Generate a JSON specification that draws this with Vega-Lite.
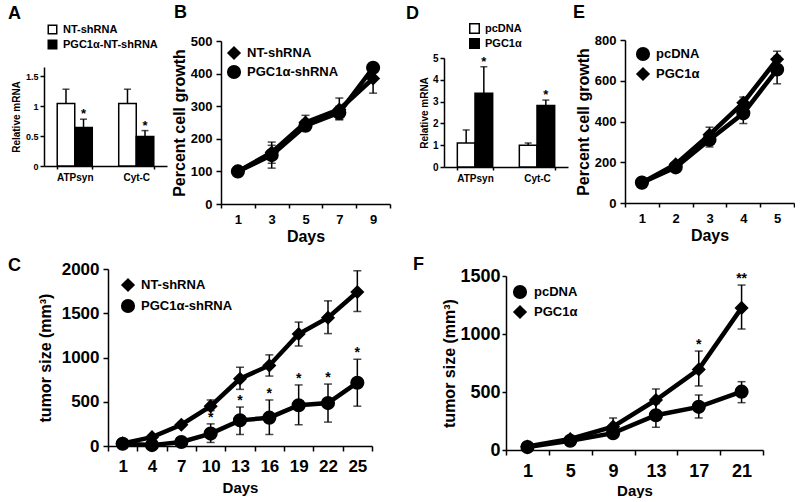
{
"$schema": "https://vega.github.io/schema/vega-lite/v6.json",
"background": "white",
"padding": {"left": 6, "top": 3, "right": 0, "bottom": 0},
"config": {
 "font": "Liberation Sans",
 "view": {"stroke": null},
 "axis": {"grid": false, "domainColor": "black", "domainWidth": 1.5, "tickColor": "black", "tickWidth": 1.5, "labelColor": "black", "titleColor": "black", "labelFontWeight": "bold", "titleFontWeight": "bold", "labelFont": "Liberation Sans", "titleFont": "Liberation Sans"},
 "legend": {"labelFont": "Liberation Sans", "labelFontWeight": "bold", "labelColor": "black", "padding": 0},
 "title": {"font": "Liberation Sans", "fontWeight": "bold", "color": "black", "fontSize": 18, "anchor": "start", "frame": "group"}
},
"resolve": {"scale": {"fill": "independent", "shape": "independent", "xOffset": "independent"}},
"columns": 1, "align": "none", "spacing": 11,
"concat": [
 {"columns": 2, "align": "none", "spacing": 1,
  "resolve": {"scale": {"fill": "independent", "shape": "independent", "xOffset": "independent"}},
  "concat": [
  {"width": 1, "height": 1, "view": {"fill": "white"}, "data": {"values": []}, "mark": "point"},
  {"columns": 2, "align": "none", "spacing": 15,
   "resolve": {"scale": {"fill": "independent", "shape": "independent", "xOffset": "independent"}},
   "concat": [
   {"columns": 2, "align": "none", "spacing": 4,
    "resolve": {"scale": {"fill": "independent", "shape": "independent", "xOffset": "independent"}},
    "concat": [
    {"columns": 1, "align": "none", "spacing": 0,
     "resolve": {"scale": {"fill": "independent", "shape": "independent", "xOffset": "independent"}},
     "concat": [
     {"width": 1, "height": 1, "view": {"fill": "white"}, "data": {"values": []}, "mark": "point"},
     {
      "width": 123, "height": 99,
      "title": {"text": "A", "dx": -36, "offset": 1.5},
      "data": {"values": [
       {"gene": "ATPsyn", "grp": "NT-shRNA", "val": 1.04, "hi": 1.28, "sig": ""},
       {"gene": "ATPsyn", "grp": "PGC1α-NT-shRNA", "val": 0.64, "hi": 0.78, "sig": "*"},
       {"gene": "Cyt-C", "grp": "NT-shRNA", "val": 1.04, "hi": 1.28, "sig": ""},
       {"gene": "Cyt-C", "grp": "PGC1α-NT-shRNA", "val": 0.49, "hi": 0.59, "sig": "*"}
      ]},
      "encoding": {
       "x": {"field": "gene", "type": "nominal", "sort": ["ATPsyn", "Cyt-C"], "scale": {"paddingInner": 0.43, "paddingOuter": 0.215}, "axis": {"title": null, "labelAngle": 0, "labelFontSize": 10, "tickBand": "extent", "tickSize": 3, "labelPadding": 3}},
       "xOffset": {"field": "grp", "type": "nominal", "sort": ["NT-shRNA", "PGC1α-NT-shRNA"], "scale": {"paddingInner": 0, "paddingOuter": 0}},
       "y": {"field": "val", "type": "quantitative", "scale": {"domain": [0, 1.65], "nice": false}, "axis": {"title": "Relative mRNA", "format": "~g", "values": [0, 0.5, 1, 1.5], "labelFontSize": 9, "titleFontSize": 10, "tickSize": 4, "labelPadding": 2, "titlePadding": 4}}
      },
      "layer": [
       {"mark": {"type": "rule", "color": "black", "strokeWidth": 1.5}, "encoding": {"y2": {"field": "hi"}}},
       {"mark": {"type": "tick", "color": "black", "thickness": 1.5, "size": 7}, "encoding": {"y": {"field": "hi", "type": "quantitative"}}},
       {"mark": {"type": "bar", "stroke": "black", "strokeWidth": 1.5}, "encoding": {"fill": {"field": "grp", "type": "nominal", "scale": {"domain": ["NT-shRNA", "PGC1α-NT-shRNA"], "range": ["white", "black"]}, "legend": {"title": null, "orient": "none", "legendX": 3, "legendY": -43, "symbolType": "square", "symbolSize": 72, "symbolStrokeColor": "black", "symbolStrokeWidth": 1.5, "labelFontSize": 11, "rowPadding": 0, "labelOffset": 5}}}},
       {"mark": {"type": "text", "fontSize": 13, "fontWeight": "bold", "baseline": "alphabetic", "dy": -1, "color": "black"}, "encoding": {"y": {"field": "hi", "type": "quantitative"}, "text": {"field": "sig"}}}
      ]
     }
    ]},
    {"columns": 1, "align": "none", "spacing": 0,
     "resolve": {"scale": {"fill": "independent", "shape": "independent", "xOffset": "independent"}},
     "concat": [
     {"width": 1, "height": 1, "view": {"fill": "white"}, "data": {"values": []}, "mark": "point"},
     {
      "width": 169, "height": 163,
      "title": {"text": "B", "dx": -47, "offset": 13},
      "data": {"values": [
       {"day": 1, "grp": "NT-shRNA", "val": 100, "lo": 100, "hi": 100},
       {"day": 3, "grp": "NT-shRNA", "val": 158, "lo": 125, "hi": 190},
       {"day": 5, "grp": "NT-shRNA", "val": 250, "lo": 232, "hi": 272},
       {"day": 7, "grp": "NT-shRNA", "val": 290, "lo": 260, "hi": 325},
       {"day": 9, "grp": "NT-shRNA", "val": 385, "lo": 340, "hi": 420},
       {"day": 1, "grp": "PGC1α-shRNA", "val": 100, "lo": 100, "hi": 100},
       {"day": 3, "grp": "PGC1α-shRNA", "val": 150, "lo": 110, "hi": 180},
       {"day": 5, "grp": "PGC1α-shRNA", "val": 240, "lo": 225, "hi": 258},
       {"day": 7, "grp": "PGC1α-shRNA", "val": 280, "lo": 258, "hi": 300},
       {"day": 9, "grp": "PGC1α-shRNA", "val": 418, "lo": 405, "hi": 430}
      ]},
      "encoding": {
       "x": {"field": "day", "type": "ordinal", "bandPosition": 0.5, "scale": {"type": "band", "paddingInner": 0, "paddingOuter": 0}, "axis": {"title": "Days", "labelAngle": 0, "labelFontSize": 13, "titleFontSize": 16, "tickBand": "extent", "tickSize": 4, "labelPadding": 5, "titlePadding": 2}},
       "y": {"field": "val", "type": "quantitative", "scale": {"domain": [0, 500], "nice": false}, "axis": {"title": "Percent cell growth", "format": "d", "values": [0, 100, 200, 300, 400, 500], "labelFontSize": 13, "titleFontSize": 16, "tickSize": 5, "labelPadding": 4, "titlePadding": 3}}
      },
      "layer": [
       {"mark": {"type": "line", "color": "black", "strokeWidth": 4.5}, "encoding": {"detail": {"field": "grp"}}},
       {"mark": {"type": "rule", "color": "black", "strokeWidth": 1.5}, "encoding": {"y": {"field": "lo", "type": "quantitative"}, "y2": {"field": "hi"}}},
       {"mark": {"type": "tick", "color": "black", "thickness": 1.5, "size": 8}, "encoding": {"y": {"field": "lo", "type": "quantitative"}}},
       {"mark": {"type": "tick", "color": "black", "thickness": 1.5, "size": 8}, "encoding": {"y": {"field": "hi", "type": "quantitative"}}},
       {"mark": {"type": "point", "filled": true, "color": "black", "opacity": 1, "size": 200}, "encoding": {
         "shape": {"field": "grp", "type": "nominal", "scale": {"domain": ["NT-shRNA", "PGC1α-shRNA"], "range": ["diamond", "circle"]}, "legend": {"title": null, "orient": "none", "legendX": 5, "legendY": 4, "symbolSize": 200, "symbolFillColor": "black", "symbolStrokeColor": "black", "labelFontSize": 13, "rowPadding": -3, "labelOffset": 5}}}}
      ]
     }
    ]}
   ]},
   {"columns": 2, "align": "none", "spacing": 5,
    "resolve": {"scale": {"fill": "independent", "shape": "independent", "xOffset": "independent"}},
    "concat": [
    {"columns": 1, "align": "none", "spacing": 0,
     "resolve": {"scale": {"fill": "independent", "shape": "independent", "xOffset": "independent"}},
     "concat": [
     {"width": 1, "height": 1, "view": {"fill": "white"}, "data": {"values": []}, "mark": "point"},
     {
      "width": 124, "height": 109,
      "title": {"text": "D", "dx": -38, "offset": 0.5},
      "data": {"values": [
       {"gene": "ATPsyn", "grp": "pcDNA", "val": 1.1, "hi": 1.7, "sig": ""},
       {"gene": "ATPsyn", "grp": "PGC1α", "val": 3.38, "hi": 4.6, "sig": "*"},
       {"gene": "Cyt-C", "grp": "pcDNA", "val": 1.0, "hi": 1.1, "sig": ""},
       {"gene": "Cyt-C", "grp": "PGC1α", "val": 2.82, "hi": 3.07, "sig": "*"}
      ]},
      "encoding": {
       "x": {"field": "gene", "type": "nominal", "sort": ["ATPsyn", "Cyt-C"], "scale": {"paddingInner": 0.43, "paddingOuter": 0.215}, "axis": {"title": null, "labelAngle": 0, "labelFontSize": 10, "tickBand": "extent", "tickSize": 3, "labelPadding": 3}},
       "xOffset": {"field": "grp", "type": "nominal", "sort": ["pcDNA", "PGC1α"], "scale": {"paddingInner": 0, "paddingOuter": 0}},
       "y": {"field": "val", "type": "quantitative", "scale": {"domain": [0, 5], "nice": false}, "axis": {"title": "Relative mRNA", "format": "d", "values": [0, 1, 2, 3, 4, 5], "labelFontSize": 10, "titleFontSize": 10, "tickSize": 4, "labelPadding": 2, "titlePadding": 3}}
      },
      "layer": [
       {"mark": {"type": "rule", "color": "black", "strokeWidth": 1.5}, "encoding": {"y2": {"field": "hi"}}},
       {"mark": {"type": "tick", "color": "black", "thickness": 1.5, "size": 7}, "encoding": {"y": {"field": "hi", "type": "quantitative"}}},
       {"mark": {"type": "bar", "stroke": "black", "strokeWidth": 1.5}, "encoding": {"fill": {"field": "grp", "type": "nominal", "scale": {"domain": ["pcDNA", "PGC1α"], "range": ["white", "black"]}, "legend": {"title": null, "orient": "none", "legendX": 25, "legendY": -35, "symbolType": "square", "symbolSize": 90, "symbolStrokeColor": "black", "symbolStrokeWidth": 1.5, "labelFontSize": 11, "rowPadding": -2, "labelOffset": 5}}}},
       {"mark": {"type": "text", "fontSize": 13, "fontWeight": "bold", "baseline": "alphabetic", "dy": -1, "color": "black"}, "encoding": {"y": {"field": "hi", "type": "quantitative"}, "text": {"field": "sig"}}}
      ]
     }
    ]},
    {"columns": 1, "align": "none", "spacing": 0,
     "resolve": {"scale": {"fill": "independent", "shape": "independent", "xOffset": "independent"}},
     "concat": [
     {"width": 1, "height": 1, "view": {"fill": "white"}, "data": {"values": []}, "mark": "point"},
     {
      "width": 169, "height": 163,
      "title": {"text": "E", "dx": -52, "offset": 12},
      "data": {"values": [
       {"day": 1, "grp": "pcDNA", "val": 100, "lo": 100, "hi": 100},
       {"day": 2, "grp": "pcDNA", "val": 175, "lo": 165, "hi": 185},
       {"day": 3, "grp": "pcDNA", "val": 310, "lo": 275, "hi": 345},
       {"day": 4, "grp": "pcDNA", "val": 440, "lo": 390, "hi": 490},
       {"day": 5, "grp": "pcDNA", "val": 655, "lo": 585, "hi": 720},
       {"day": 1, "grp": "PGC1α", "val": 100, "lo": 100, "hi": 100},
       {"day": 2, "grp": "PGC1α", "val": 190, "lo": 180, "hi": 200},
       {"day": 3, "grp": "PGC1α", "val": 335, "lo": 305, "hi": 372},
       {"day": 4, "grp": "PGC1α", "val": 492, "lo": 470, "hi": 520},
       {"day": 5, "grp": "PGC1α", "val": 705, "lo": 670, "hi": 745}
      ]},
      "encoding": {
       "x": {"field": "day", "type": "ordinal", "bandPosition": 0.5, "scale": {"type": "band", "paddingInner": 0, "paddingOuter": 0}, "axis": {"title": "Days", "labelAngle": 0, "labelFontSize": 13, "titleFontSize": 16, "tickBand": "extent", "tickSize": 4, "labelPadding": 5, "titlePadding": 2}},
       "y": {"field": "val", "type": "quantitative", "scale": {"domain": [0, 800], "nice": false}, "axis": {"title": "Percent cell growth", "format": "d", "values": [0, 200, 400, 600, 800], "labelFontSize": 13, "titleFontSize": 16, "tickSize": 5, "labelPadding": 4, "titlePadding": 3}}
      },
      "layer": [
       {"mark": {"type": "line", "color": "black", "strokeWidth": 4.5}, "encoding": {"detail": {"field": "grp"}}},
       {"mark": {"type": "rule", "color": "black", "strokeWidth": 1.5}, "encoding": {"y": {"field": "lo", "type": "quantitative"}, "y2": {"field": "hi"}}},
       {"mark": {"type": "tick", "color": "black", "thickness": 1.5, "size": 8}, "encoding": {"y": {"field": "lo", "type": "quantitative"}}},
       {"mark": {"type": "tick", "color": "black", "thickness": 1.5, "size": 8}, "encoding": {"y": {"field": "hi", "type": "quantitative"}}},
       {"mark": {"type": "point", "filled": true, "color": "black", "opacity": 1, "size": 200}, "encoding": {
         "shape": {"field": "grp", "type": "nominal", "scale": {"domain": ["pcDNA", "PGC1α"], "range": ["circle", "diamond"]}, "legend": {"title": null, "orient": "none", "legendX": 10, "legendY": 6, "symbolSize": 200, "symbolFillColor": "black", "symbolStrokeColor": "black", "labelFontSize": 13, "rowPadding": -2, "labelOffset": 5}}}}
      ]
     }
    ]}
   ]}
  ]}
 ]},
 {"columns": 2, "align": "none", "spacing": 1,
  "resolve": {"scale": {"fill": "independent", "shape": "independent", "xOffset": "independent"}},
  "concat": [
  {"width": 1, "height": 1, "view": {"fill": "white"}, "data": {"values": []}, "mark": "point"},
  {"columns": 2, "align": "none", "spacing": 40,
   "resolve": {"scale": {"fill": "independent", "shape": "independent", "xOffset": "independent"}},
   "concat": [
   {"columns": 1, "align": "none", "spacing": 0,
    "resolve": {"scale": {"fill": "independent", "shape": "independent", "xOffset": "independent"}},
    "concat": [
    {"width": 1, "height": 1, "view": {"fill": "white"}, "data": {"values": []}, "mark": "point"},
    {
     "width": 264, "height": 177,
     "title": {"text": "C", "dx": -100, "offset": -17},
     "data": {"values": [
      {"day": 1, "grp": "NT-shRNA", "val": 30, "lo": 20, "hi": 40, "sig": ""},
      {"day": 4, "grp": "NT-shRNA", "val": 100, "lo": 85, "hi": 115, "sig": ""},
      {"day": 7, "grp": "NT-shRNA", "val": 240, "lo": 215, "hi": 265, "sig": ""},
      {"day": 10, "grp": "NT-shRNA", "val": 450, "lo": 400, "hi": 520, "sig": ""},
      {"day": 13, "grp": "NT-shRNA", "val": 760, "lo": 640, "hi": 890, "sig": ""},
      {"day": 16, "grp": "NT-shRNA", "val": 910, "lo": 790, "hi": 1030, "sig": ""},
      {"day": 19, "grp": "NT-shRNA", "val": 1265, "lo": 1130, "hi": 1400, "sig": ""},
      {"day": 22, "grp": "NT-shRNA", "val": 1450, "lo": 1270, "hi": 1640, "sig": ""},
      {"day": 25, "grp": "NT-shRNA", "val": 1740, "lo": 1520, "hi": 1980, "sig": ""},
      {"day": 1, "grp": "PGC1α-shRNA", "val": 25, "lo": 15, "hi": 35, "sig": ""},
      {"day": 4, "grp": "PGC1α-shRNA", "val": 10, "lo": 5, "hi": 15, "sig": ""},
      {"day": 7, "grp": "PGC1α-shRNA", "val": 45, "lo": 35, "hi": 55, "sig": ""},
      {"day": 10, "grp": "PGC1α-shRNA", "val": 140, "lo": 40, "hi": 250, "sig": "*"},
      {"day": 13, "grp": "PGC1α-shRNA", "val": 290, "lo": 130, "hi": 440, "sig": "*"},
      {"day": 16, "grp": "PGC1α-shRNA", "val": 320, "lo": 130, "hi": 520, "sig": "*"},
      {"day": 19, "grp": "PGC1α-shRNA", "val": 460, "lo": 240, "hi": 690, "sig": "*"},
      {"day": 22, "grp": "PGC1α-shRNA", "val": 485, "lo": 270, "hi": 700, "sig": "*"},
      {"day": 25, "grp": "PGC1α-shRNA", "val": 715, "lo": 450, "hi": 980, "sig": "*"}
     ]},
     "encoding": {
      "x": {"field": "day", "type": "ordinal", "bandPosition": 0.5, "scale": {"type": "band", "paddingInner": 0, "paddingOuter": 0}, "axis": {"title": "Days", "labelAngle": 0, "labelFontSize": 17, "titleFontSize": 15, "tickBand": "extent", "tickSize": 5, "labelPadding": 7, "titlePadding": 6}},
      "y": {"field": "val", "type": "quantitative", "scale": {"domain": [0, 2000], "nice": false}, "axis": {"title": "tumor size (mm³)", "format": "d", "values": [0, 500, 1000, 1500, 2000], "labelFontSize": 17, "titleFontSize": 16, "tickSize": 5, "labelPadding": 4, "titlePadding": 8}}
     },
     "layer": [
      {"mark": {"type": "line", "color": "black", "strokeWidth": 4.5}, "encoding": {"detail": {"field": "grp"}}},
      {"mark": {"type": "rule", "color": "black", "strokeWidth": 1.5}, "encoding": {"y": {"field": "lo", "type": "quantitative"}, "y2": {"field": "hi"}}},
      {"mark": {"type": "tick", "color": "black", "thickness": 1.5, "size": 8}, "encoding": {"y": {"field": "lo", "type": "quantitative"}}},
      {"mark": {"type": "tick", "color": "black", "thickness": 1.5, "size": 8}, "encoding": {"y": {"field": "hi", "type": "quantitative"}}},
      {"mark": {"type": "point", "filled": true, "color": "black", "opacity": 1, "size": 200}, "encoding": {
        "shape": {"field": "grp", "type": "nominal", "scale": {"domain": ["NT-shRNA", "PGC1α-shRNA"], "range": ["diamond", "circle"]}, "legend": {"title": null, "orient": "none", "legendX": 12, "legendY": 8, "symbolSize": 200, "symbolFillColor": "black", "symbolStrokeColor": "black", "labelFontSize": 13, "rowPadding": -1, "labelOffset": 5}}}},
      {"mark": {"type": "text", "fontSize": 14, "fontWeight": "bold", "baseline": "alphabetic", "dy": -2, "color": "black"}, "encoding": {"y": {"field": "hi", "type": "quantitative"}, "text": {"field": "sig"}}}
     ]
    }
   ]},
   {"columns": 1, "align": "none", "spacing": 0,
    "resolve": {"scale": {"fill": "independent", "shape": "independent", "xOffset": "independent"}},
    "concat": [
    {"width": 1, "height": 1, "view": {"fill": "white"}, "data": {"values": []}, "mark": "point"},
    {
     "width": 257, "height": 174,
     "title": {"text": "F", "dx": -93, "offset": -7},
     "data": {"values": [
      {"day": 1, "grp": "pcDNA", "val": 25, "lo": 15, "hi": 35, "sig": ""},
      {"day": 5, "grp": "pcDNA", "val": 80, "lo": 65, "hi": 95, "sig": ""},
      {"day": 9, "grp": "pcDNA", "val": 145, "lo": 115, "hi": 180, "sig": ""},
      {"day": 13, "grp": "pcDNA", "val": 300, "lo": 196, "hi": 400, "sig": ""},
      {"day": 17, "grp": "pcDNA", "val": 372, "lo": 276, "hi": 474, "sig": ""},
      {"day": 21, "grp": "pcDNA", "val": 503, "lo": 408, "hi": 589, "sig": ""},
      {"day": 1, "grp": "PGC1α", "val": 30, "lo": 20, "hi": 40, "sig": ""},
      {"day": 5, "grp": "PGC1α", "val": 95, "lo": 80, "hi": 110, "sig": ""},
      {"day": 9, "grp": "PGC1α", "val": 201, "lo": 160, "hi": 276, "sig": ""},
      {"day": 13, "grp": "PGC1α", "val": 431, "lo": 340, "hi": 526, "sig": ""},
      {"day": 17, "grp": "PGC1α", "val": 695, "lo": 552, "hi": 853, "sig": "*"},
      {"day": 21, "grp": "PGC1α", "val": 1225, "lo": 1043, "hi": 1422, "sig": "**"}
     ]},
     "encoding": {
      "x": {"field": "day", "type": "ordinal", "bandPosition": 0.5, "scale": {"type": "band", "paddingInner": 0, "paddingOuter": 0}, "axis": {"title": "Days", "labelAngle": 0, "labelFontSize": 18, "titleFontSize": 15, "tickBand": "extent", "tickSize": 5, "labelPadding": 7, "titlePadding": 3}},
      "y": {"field": "val", "type": "quantitative", "scale": {"domain": [0, 1500], "nice": false}, "axis": {"title": "tumor size (mm³)", "format": "d", "values": [0, 500, 1000, 1500], "labelFontSize": 18, "titleFontSize": 16, "tickSize": 4, "labelPadding": 2, "titlePadding": 2}}
     },
     "layer": [
      {"mark": {"type": "line", "color": "black", "strokeWidth": 4.5}, "encoding": {"detail": {"field": "grp"}}},
      {"mark": {"type": "rule", "color": "black", "strokeWidth": 1.5}, "encoding": {"y": {"field": "lo", "type": "quantitative"}, "y2": {"field": "hi"}}},
      {"mark": {"type": "tick", "color": "black", "thickness": 1.5, "size": 8}, "encoding": {"y": {"field": "lo", "type": "quantitative"}}},
      {"mark": {"type": "tick", "color": "black", "thickness": 1.5, "size": 8}, "encoding": {"y": {"field": "hi", "type": "quantitative"}}},
      {"mark": {"type": "point", "filled": true, "color": "black", "opacity": 1, "size": 200}, "encoding": {
        "shape": {"field": "grp", "type": "nominal", "scale": {"domain": ["pcDNA", "PGC1α"], "range": ["circle", "diamond"]}, "legend": {"title": null, "orient": "none", "legendX": 6, "legendY": 8, "symbolSize": 200, "symbolFillColor": "black", "symbolStrokeColor": "black", "labelFontSize": 13, "rowPadding": -2, "labelOffset": 6}}}},
      {"mark": {"type": "text", "fontSize": 14, "fontWeight": "bold", "baseline": "alphabetic", "dy": -2, "color": "black"}, "encoding": {"y": {"field": "hi", "type": "quantitative"}, "text": {"field": "sig"}}}
     ]
    }
   ]}
  ]}
 ]}
]
}
